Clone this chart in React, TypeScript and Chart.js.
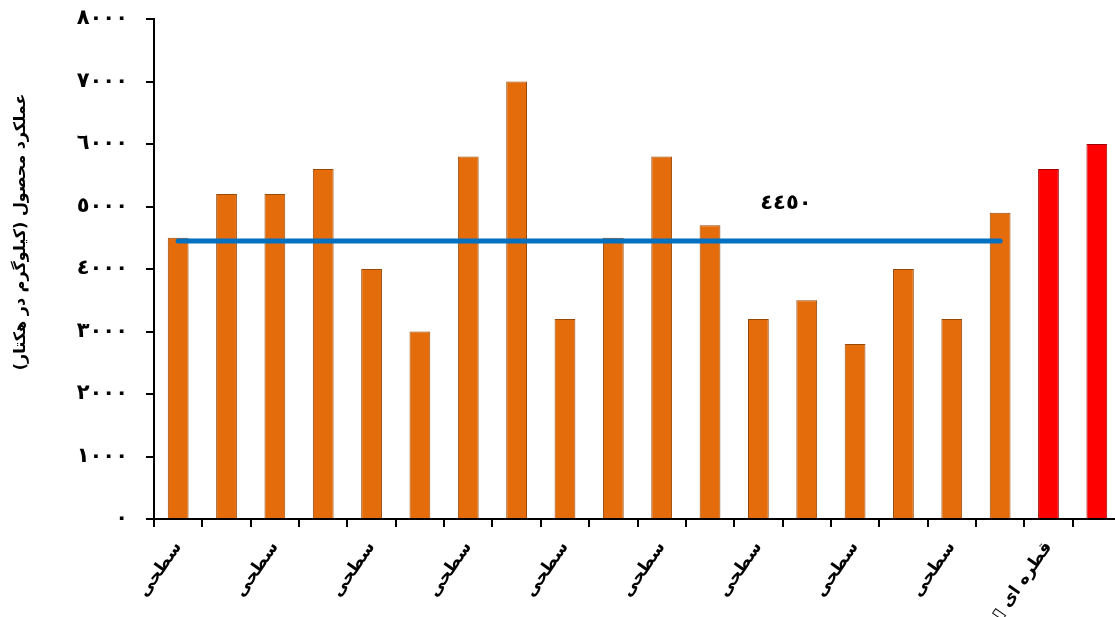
import React, { useEffect, useRef } from "react";
import { Chart, registerables } from "chart.js";

Chart.register(...registerables);

const SURFACE = "سطحی";
const DRIP = "قطره ای ▯\u200F";

const categories = [
  SURFACE, SURFACE, SURFACE, SURFACE, SURFACE, SURFACE, SURFACE, SURFACE, SURFACE, SURFACE,
  SURFACE, SURFACE, SURFACE, SURFACE, SURFACE, SURFACE, SURFACE, SURFACE, DRIP, DRIP,
];

const yieldValues = [
  4500, 5200, 5200, 5600, 4000, 3000, 5800, 7000, 3200, 4500,
  5800, 4700, 3200, 3500, 2800, 4000, 3200, 4900, 5600, 6000,
];

const meanValue = 4450;
const meanLabel = "٤٤٥٠";
const yTickValues = [0, 1000, 2000, 3000, 4000, 5000, 6000, 7000, 8000];
const yTitle = "عملکرد محصول (کیلوگرم در هکتار)";

const arabicDigits = "٠١٢٣٤٥٦٧٨٩";
function toArabic(n: number): string {
  return String(n).replace(/[0-9]/g, (d) => arabicDigits[Number(d)]);
}

const FONT = "'DejaVu Sans', sans-serif";

export default function App() {
  const canvasRef = useRef<HTMLCanvasElement | null>(null);

  useEffect(() => {
    document.body.style.margin = "0";
    document.body.style.overflow = "hidden";
    const canvas = canvasRef.current;
    if (!canvas) return;

    const annotations = {
      id: "annotations",
      afterDatasetsDraw(chart: any) {
        const { ctx, scales, chartArea } = chart;
        const x = scales.x;
        const y = scales.y;
        ctx.save();
        ctx.font = `bold 21px ${FONT}`;
        ctx.fillStyle = "#000";
        ctx.textAlign = "center";
        ctx.textBaseline = "middle";
        ctx.fillText(meanLabel, x.getPixelForValue(12.57), y.getPixelForValue(meanValue + 590));
        ctx.translate(21, (chartArea.top + chartArea.bottom) / 2 - 37);
        ctx.rotate(-Math.PI / 2);
        ctx.font = `bold 16px ${FONT}`;
        ctx.fillText(yTitle, 0, 0);
        ctx.restore();
      },
    };

    const chart = new Chart(canvas, {
      type: "bar",
      data: {
        labels: categories,
        datasets: [
          {
            type: "line",
            data: categories.map((c) => (c === SURFACE ? meanValue : null)),
            borderColor: "#0070C0",
            borderWidth: 5,
            borderCapStyle: "round",
            pointRadius: 0,
            fill: false,
            order: 0,
          } as any,
          {
            type: "bar",
            data: yieldValues,
            backgroundColor: categories.map((c) => (c === SURFACE ? "#E46C0A" : "#FF0000")),
            borderColor: categories.map((c) => (c === SURFACE ? "#984807" : "#A00000")),
            borderWidth: 1,
            barPercentage: 0.43,
            categoryPercentage: 1,
            order: 1,
          },
        ],
      },
      options: {
        animation: false,
        responsive: true,
        maintainAspectRatio: false,
        layout: { autoPadding: false, padding: { top: 19, right: 0, left: 0, bottom: 0 } },
        plugins: {
          legend: { display: false },
          tooltip: { enabled: false },
        },
        scales: {
          x: {
            offset: true,
            border: { display: true, color: "#000", width: 2 },
            grid: {
              offset: true,
              drawOnChartArea: false,
              drawTicks: true,
              tickLength: 8,
              color: "#000",
              lineWidth: 2,
            },
            ticks: {
              autoSkip: false,
              minRotation: 55,
              maxRotation: 55,
              padding: 11,
              color: "#000",
              font: { family: FONT, size: 17, weight: "bold" },
              callback: (_v: any, i: number) => (i % 2 === 0 ? categories[i] : ""),
            },
            afterFit: (s: any) => {
              s.height = 98;
              s.paddingLeft = 0;
              s.paddingRight = 0;
              s.paddingTop = 0;
              s.paddingBottom = 0;
            },
          },
          y: {
            min: 0,
            max: 8000,
            border: { display: true, color: "#000", width: 2 },
            grid: {
              drawOnChartArea: false,
              drawTicks: true,
              tickLength: 8,
              color: "#000",
              lineWidth: 2,
            },
            afterBuildTicks: (s: any) => {
              s.ticks = yTickValues.map((v) => ({ value: v }));
            },
            ticks: {
              padding: 18,
              color: "#000",
              font: { family: FONT, size: 21, weight: "bold" },
              callback: (v: any) => toArabic(Number(v)),
            },
            afterFit: (s: any) => {
              s.width = 154;
              s.paddingLeft = 0;
              s.paddingRight = 0;
              s.paddingTop = 0;
              s.paddingBottom = 0;
            },
          },
        },
      },
      plugins: [annotations],
    });

    return () => chart.destroy();
  }, []);

  return (
    <div style={{ width: 1121, height: 617, position: "relative" }}>
      <canvas ref={canvasRef} />
    </div>
  );
}
